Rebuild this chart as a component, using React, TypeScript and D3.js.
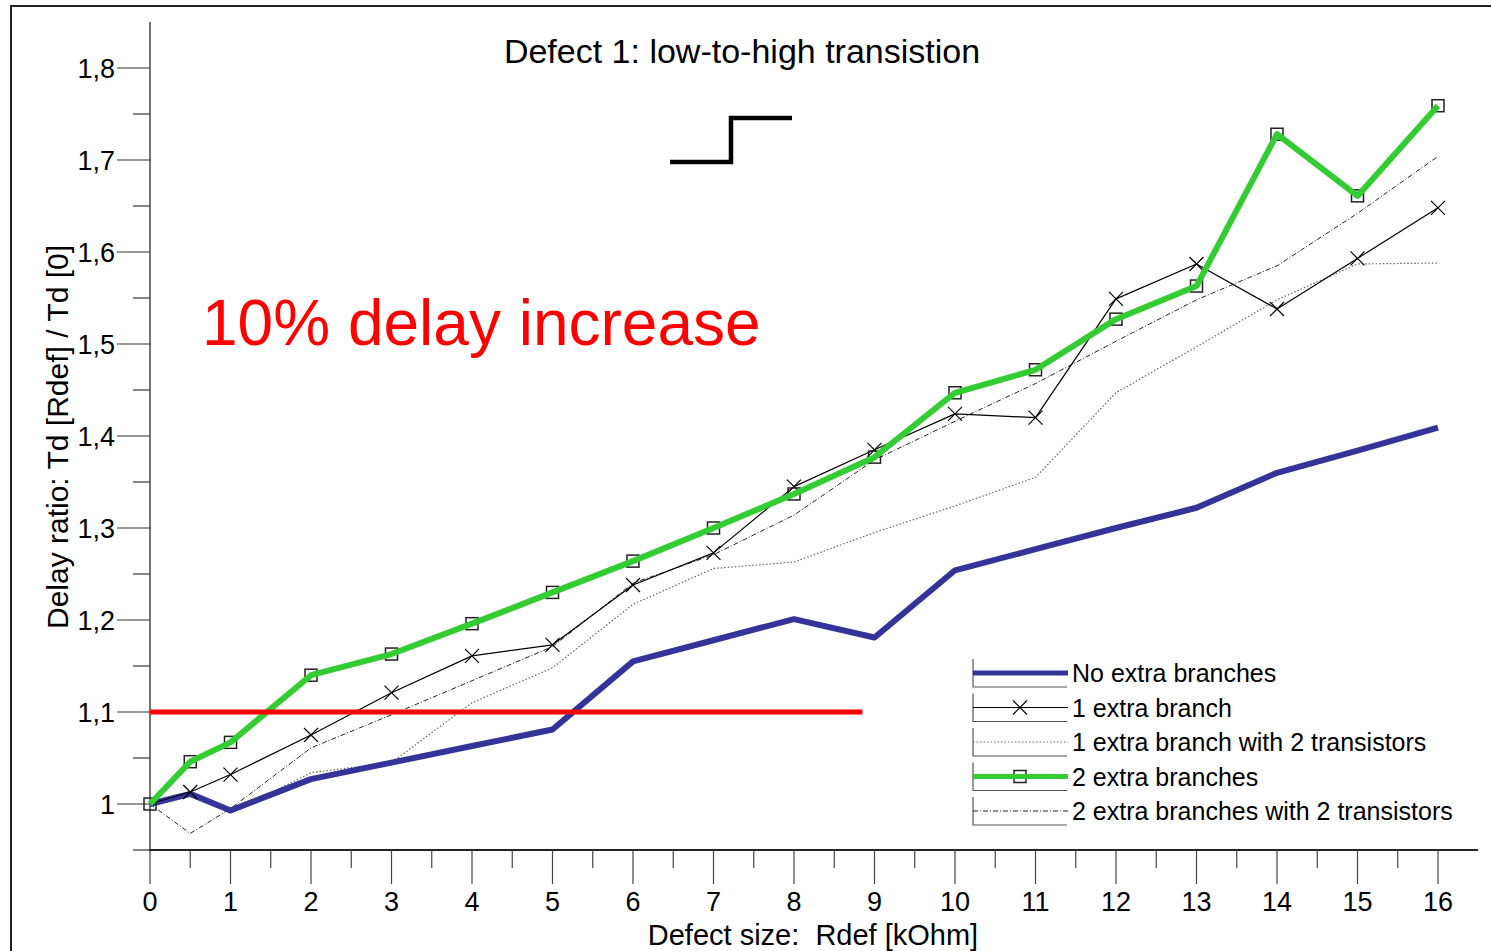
import React from 'react';
import * as d3 from 'd3';

// defect size in kOhm
const rdef = [0, 0.5, 1, 2, 3, 4, 5, 6, 7, 8, 9, 10, 11, 12, 13, 14, 15, 16];

// delay ratio Td[Rdef] / Td[0]
const noExtra = [1.0, 1.011, 0.993, 1.027, 1.045, 1.063, 1.081, 1.155, 1.178, 1.201, 1.181, 1.254, 1.277, 1.3, 1.322, 1.36, 1.384, 1.409];
const oneBranch = [1.0, 1.013, 1.032, 1.075, 1.121, 1.161, 1.173, 1.238, 1.273, 1.345, 1.385, 1.424, 1.42, 1.549, 1.587, 1.538, 1.593, 1.648];
const oneBranch2T = [1.0, 1.012, 0.99, 1.034, 1.045, 1.11, 1.148, 1.217, 1.256, 1.263, 1.295, 1.324, 1.355, 1.447, 1.497, 1.548, 1.587, 1.588];
const twoBranches = [1.0, 1.046, 1.067, 1.14, 1.163, 1.196, 1.23, 1.264, 1.3, 1.337, 1.377, 1.447, 1.472, 1.527, 1.563, 1.728, 1.661, 1.759];
const twoBranches2T = [1.0, 0.968, 0.995, 1.061, 1.097, 1.134, 1.171, 1.24, 1.271, 1.314, 1.374, 1.416, 1.457, 1.503, 1.548, 1.585, 1.642, 1.704];

const xTicks = d3.range(0, 17);
const yTicks = [1, 1.1, 1.2, 1.3, 1.4, 1.5, 1.6, 1.7, 1.8];
const threshold = 1.1;
const thresholdEnd = 8.85;

const legendNames = [
    'No extra branches',
    '1 extra branch',
    '1 extra branch with 2 transistors',
    '2 extra branches',
    '2 extra branches with 2 transistors',
];

const FONT = '"Liberation Sans", Arial, sans-serif';
const W = 1491;
const H = 951;

const x = d3.scaleLinear().domain([0, 16]).range([150, 1438]);
const y = d3.scaleLinear().domain([0.95, 1.85]).range([850, 22]);

const styles = [
    { stroke: '#333399', width: 6, dash: undefined, marker: null },
    { stroke: '#000', width: 1.2, dash: undefined, marker: 'x' },
    { stroke: '#666', width: 1.2, dash: '1.5,2', marker: null },
    { stroke: '#33cc33', width: 6, dash: undefined, marker: 'sq' },
    { stroke: '#222', width: 1, dash: '5,2,1,2', marker: null },
];

const Cross = ({ cx, cy }) => (
    <path d={`M${cx - 7},${cy - 7}L${cx + 7},${cy + 7}M${cx - 7},${cy + 7}L${cx + 7},${cy - 7}`} stroke="#000" strokeWidth="1.2" fill="none" />
);

const Square = ({ cx, cy }) => (
    <rect x={cx - 6} y={cy - 6} width="12" height="12" fill="none" stroke="#222" strokeWidth="1.5" />
);

export default function App() {
    const series = [noExtra, oneBranch, oneBranch2T, twoBranches, twoBranches2T];
    const line = d3.line().x(d => x(d[0])).y(d => y(d[1]));
    const pts = (vals) => rdef.map((r, i) => [r, vals[i]]);
    const halfX = d3.range(0.5, 16, 1);
    const minorY = d3.range(0.95, 1.8, 0.1);
    const drawOrder = [2, 4, 0, 1, 3];

    return (
        <svg width={W} height={H} style={{ position: 'absolute', left: 0, top: 0, background: '#fff' }}>
            <rect x="11" y="6" width={W + 10} height={H + 10} fill="#fff" stroke="#222" strokeWidth="2" />

            {/* title and step symbol */}
            <text x="742" y="63" textAnchor="middle" fontFamily={FONT} fontSize="34" fill="#000">Defect 1: low-to-high transistion</text>
            <path d="M670,162H731V118H792" fill="none" stroke="#000" strokeWidth="4.5" />

            {/* y axis */}
            <line x1="150" x2="150" y1="22" y2="851" stroke="#444" strokeWidth="1.5" />
            {yTicks.map(t => (
                <g key={t}>
                    <line x1="117" x2="150" y1={y(t)} y2={y(t)} stroke="#333" strokeWidth="1.2" />
                    <text x="115" y={y(t) + 10} textAnchor="end" fontFamily={FONT} fontSize="27" fill="#000">{String(t).replace('.', ',')}</text>
                </g>
            ))}
            {minorY.map((t, i) => (
                <line key={i} x1="133" x2="150" y1={y(t)} y2={y(t)} stroke="#333" strokeWidth="1.2" />
            ))}
            <text transform="translate(68,437) rotate(-90)" textAnchor="middle" fontFamily={FONT} fontSize="30" fill="#000">Delay ratio: Td [Rdef] / Td [0]</text>

            {/* x axis */}
            <line x1="149" x2="1478" y1="850" y2="850" stroke="#222" strokeWidth="2" />
            {xTicks.map(t => (
                <g key={t}>
                    <line x1={x(t)} x2={x(t)} y1="850" y2="884" stroke="#444" strokeWidth="1.2" />
                    <text x={x(t)} y="911" textAnchor="middle" fontFamily={FONT} fontSize="27" fill="#000">{t}</text>
                </g>
            ))}
            {halfX.map(t => (
                <line key={t} x1={x(t)} x2={x(t)} y1="850" y2="868" stroke="#444" strokeWidth="1.2" />
            ))}
            <text x="813" y="945" textAnchor="middle" fontFamily={FONT} fontSize="29" fill="#000"
                xmlSpace="preserve" style={{ whiteSpace: 'pre' }}>Defect size:  Rdef [kOhm]</text>

            {/* annotation */}
            <text x="202" y="345" fontFamily={FONT} fontSize="64" fill="#ff0000">10% delay increase</text>

            {/* series */}
            {drawOrder.map(si => {
                const s = styles[si];
                const p = pts(series[si]);
                return (
                    <g key={si}>
                        {s.marker === 'sq' && p.map((d, i) => <Square key={i} cx={x(d[0])} cy={y(d[1])} />)}
                        <path d={line(p)} fill="none" stroke={s.stroke} strokeWidth={s.width}
                            strokeDasharray={s.dash} strokeLinejoin="round" />
                        {s.marker === 'x' && p.filter(d => d[0] > 0).map((d, i) => <Cross key={i} cx={x(d[0])} cy={y(d[1])} />)}
                    </g>
                );
            })}

            {/* 10% threshold */}
            <line x1={x(0)} x2={x(thresholdEnd)} y1={y(threshold)} y2={y(threshold)} stroke="#ff0000" strokeWidth="5" />

            {/* legend */}
            {legendNames.map((name, i) => {
                const cy = 673 + i * 34.5;
                const s = styles[i];
                return (
                    <g key={name}>
                        <path d={`M973,${cy - 14}V${cy + 14}H1067`} fill="none" stroke="#555" strokeWidth="1.2" />
                        {s.marker === 'sq' && <Square cx={1020} cy={cy} />}
                        <line x1="973" x2="1068" y1={cy} y2={cy} stroke={s.stroke}
                            strokeWidth={s.width === 6 ? 5 : s.width} strokeDasharray={s.dash} />
                        {s.marker === 'x' && <Cross cx={1020} cy={cy} />}
                        <text x="1072" y={cy + 9} fontFamily={FONT} fontSize="25" fill="#000">{name}</text>
                    </g>
                );
            })}
        </svg>
    );
}
